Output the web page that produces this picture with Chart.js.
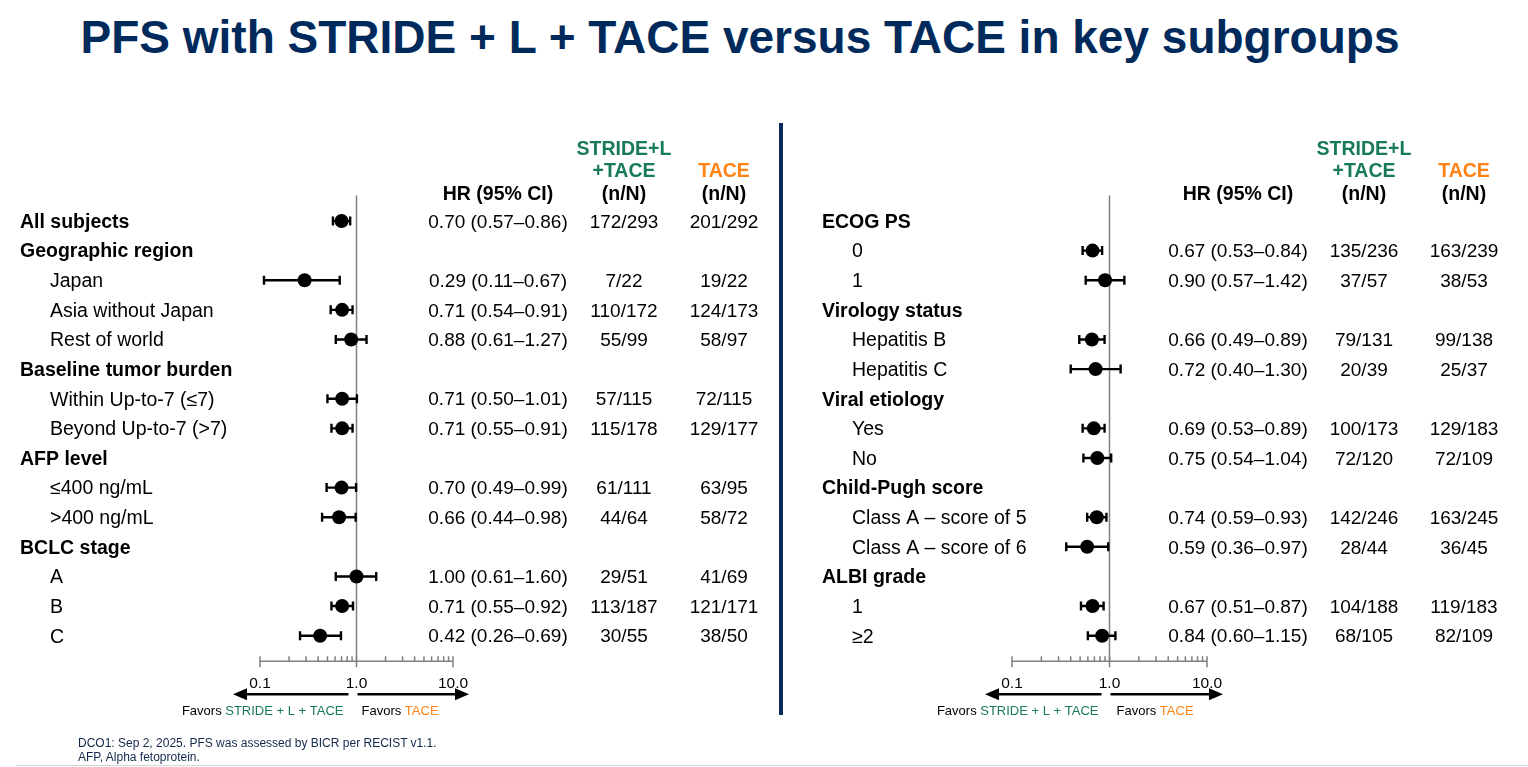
<!DOCTYPE html>
<html>
<head>
<meta charset="utf-8">
<script src="https://cdn.jsdelivr.net/npm/chart.js@4.4.1/dist/chart.umd.min.js"></script>
<style>
  body { margin: 0; width: 1528px; height: 767px; background: #fff; overflow: hidden; position: relative;
         font-family: "Liberation Sans", Arial, sans-serif; }
  #title { position: absolute; left: 0; width: 1480px; top: 14px; text-align: center; font-size: 46px;
           line-height: 46px; font-weight: bold; color: #002a5c; white-space: nowrap; }
  #divider { position: absolute; left: 779px; top: 123px; width: 4px; height: 592px; background: #0b2a5c; }
  #foot { position: absolute; left: 78px; top: 736px; font-size: 12px; line-height: 14px; color: #14284b; }
  #rule { position: absolute; left: 16px; right: 0; top: 765px; height: 1px; background: #d6d6d6; }
  canvas { position: absolute; top: 0; }
  #left { left: 0; }
  #right { left: 784px; }
</style>
</head>
<body>
<div id="title">PFS with STRIDE + L + TACE versus TACE in key subgroups</div>
<div id="divider"></div>
<canvas id="left" width="780" height="767"></canvas>
<canvas id="right" width="744" height="767"></canvas>
<div id="foot">DCO1: Sep 2, 2025. PFS was assessed by BICR per RECIST v1.1.<br>AFP, Alpha fetoprotein.</div>
<div id="rule"></div>
<script>
const GREEN = "rgb(24,122,88)"
const ORANGE = "rgb(255,130,20)"
const AXIS_GRAY = "#808080"

// left panel
const leftLabels = ["All subjects", "Geographic region", "Japan", "Asia without Japan", "Rest of world",
  "Baseline tumor burden", "Within Up-to-7 (\u22647)", "Beyond Up-to-7 (>7)", "AFP level",
  "\u2264400 ng/mL", ">400 ng/mL", "BCLC stage", "A", "B", "C"]
const leftBold = [true, true, false, false, false, true, false, false, true, false, false, true, false, false, false]
const leftHR   = [0.70, null, 0.29, 0.71, 0.88, null, 0.71, 0.71, null, 0.70, 0.66, null, 1.00, 0.71, 0.42]
const leftLow  = [0.57, null, 0.11, 0.54, 0.61, null, 0.50, 0.55, null, 0.49, 0.44, null, 0.61, 0.55, 0.26]
const leftHigh = [0.86, null, 0.67, 0.91, 1.27, null, 1.01, 0.91, null, 0.99, 0.98, null, 1.60, 0.92, 0.69]
const leftStride = ["172/293", null, "7/22", "110/172", "55/99", null, "57/115", "115/178", null,
  "61/111", "44/64", null, "29/51", "113/187", "30/55"]
const leftTace = ["201/292", null, "19/22", "124/173", "58/97", null, "72/115", "129/177", null,
  "63/95", "58/72", null, "41/69", "121/171", "38/50"]

// right panel
const rightLabels = ["ECOG PS", "0", "1", "Virology status", "Hepatitis B", "Hepatitis C", "Viral etiology",
  "Yes", "No", "Child-Pugh score", "Class A \u2013 score of 5", "Class A \u2013 score of 6", "ALBI grade", "1", "\u22652"]
const rightBold = [true, false, false, true, false, false, true, false, false, true, false, false, true, false, false]
const rightHR   = [null, 0.67, 0.90, null, 0.66, 0.72, null, 0.69, 0.75, null, 0.74, 0.59, null, 0.67, 0.84]
const rightLow  = [null, 0.53, 0.57, null, 0.49, 0.40, null, 0.53, 0.54, null, 0.59, 0.36, null, 0.51, 0.60]
const rightHigh = [null, 0.84, 1.42, null, 0.89, 1.30, null, 0.89, 1.04, null, 0.93, 0.97, null, 0.87, 1.15]
const rightStride = [null, "135/236", "37/57", null, "79/131", "20/39", null, "100/173", "72/120", null,
  "142/246", "28/44", null, "104/188", "68/105"]
const rightTace = [null, "163/239", "38/53", null, "99/138", "25/37", null, "129/183", "72/109", null,
  "163/245", "36/45", null, "119/183", "82/109"]

const axisTicks = [0.1, 0.2, 0.3, 0.4, 0.5, 0.6, 0.7, 0.8, 0.9, 1, 2, 3, 4, 5, 6, 7, 8, 9, 10]
const axisLabels = { 0.1: "0.1", 1: "1.0", 10: "10.0" }

const fmt = v => v.toFixed(2)

function makePanel(id, p) {
  const hasHR = p.hr.map(v => v != null)

  const forestPlugin = {
    id: "forest_" + id,
    beforeDatasetsDraw(chart) {
      const ctx = chart.ctx
      const xs = chart.scales.x, ys = chart.scales.y
      const refX = xs.getPixelForValue(1)
      const axisY = ys.bottom - 4
      ctx.save()
      // reference line at HR = 1
      ctx.strokeStyle = AXIS_GRAY
      ctx.lineWidth = 1.5
      ctx.beginPath()
      ctx.moveTo(refX, ys.top + 4)
      ctx.lineTo(refX, axisY)
      ctx.stroke()

      // log axis
      ctx.beginPath()
      ctx.moveTo(xs.getPixelForValue(0.1), axisY)
      ctx.lineTo(xs.getPixelForValue(10), axisY)
      axisTicks.forEach(t => {
        const x = xs.getPixelForValue(t)
        const major = axisLabels[t] !== undefined
        ctx.moveTo(x, axisY - 5)
        ctx.lineTo(x, major ? axisY + 6 : axisY)
      })
      ctx.stroke()

      ctx.fillStyle = "#000"
      ctx.font = "15.5px 'Liberation Sans', Arial, sans-serif"
      ctx.textAlign = "center"
      ctx.textBaseline = "middle"
      Object.keys(axisLabels).forEach(k => {
        ctx.fillText(axisLabels[k], xs.getPixelForValue(Number(k)), axisY + 22)
      })

      // arrows
      const arrY = axisY + 33
      ctx.strokeStyle = "#000"
      ctx.lineWidth = 2.5
      const lTip = xs.left - 27, rTip = xs.right + 16
      ctx.beginPath()
      ctx.moveTo(refX - 8, arrY); ctx.lineTo(lTip + 10, arrY)
      ctx.moveTo(refX + 1, arrY); ctx.lineTo(rTip - 10, arrY)
      ctx.stroke()
      ctx.beginPath()
      ctx.moveTo(lTip, arrY); ctx.lineTo(lTip + 14, arrY - 6); ctx.lineTo(lTip + 14, arrY + 6); ctx.closePath()
      ctx.moveTo(rTip, arrY); ctx.lineTo(rTip - 14, arrY - 6); ctx.lineTo(rTip - 14, arrY + 6); ctx.closePath()
      ctx.fill()

      // favors text
      const favY = arrY + 17
      ctx.font = "13px 'Liberation Sans', Arial, sans-serif"
      ctx.textAlign = "left"
      const pre = "Favors ", armL = "STRIDE + L + TACE", armR = "TACE"
      const wL = ctx.measureText(pre + armL).width
      let x0 = refX - p.favGapL - wL
      ctx.fillStyle = "#000"; ctx.fillText(pre, x0, favY)
      ctx.fillStyle = GREEN; ctx.fillText(armL, x0 + ctx.measureText(pre).width, favY)
      x0 = refX + p.favGapR
      ctx.fillStyle = "#000"; ctx.fillText(pre, x0, favY)
      ctx.fillStyle = ORANGE; ctx.fillText(armR, x0 + ctx.measureText(pre).width, favY)

      // confidence intervals
      ctx.strokeStyle = "#000"
      ctx.lineWidth = 2.4
      p.hr.forEach((v, i) => {
        if (v == null) return
        const y = ys.getPixelForValue(i)
        const a = xs.getPixelForValue(p.low[i]), b = xs.getPixelForValue(p.high[i])
        ctx.beginPath()
        ctx.moveTo(a, y); ctx.lineTo(b, y)
        ctx.moveTo(a, y - 4.5); ctx.lineTo(a, y + 4.5)
        ctx.moveTo(b, y - 4.5); ctx.lineTo(b, y + 4.5)
        ctx.stroke()
      })
      ctx.restore()
    },
    afterDraw(chart) {
      const ctx = chart.ctx
      const ys = chart.scales.y
      const bold = "bold 19.5px 'Liberation Sans', Arial, sans-serif"
      const reg = "19.5px 'Liberation Sans', Arial, sans-serif"
      const num = "19px 'Liberation Sans', Arial, sans-serif"
      const dy = 1.5
      ctx.save()
      ctx.textBaseline = "middle"

      // column headers
      ctx.font = bold
      ctx.textAlign = "center"
      ctx.fillStyle = GREEN
      ctx.fillText("STRIDE+L", p.colStride, 148 + dy)
      ctx.fillText("+TACE", p.colStride, 170 + dy)
      ctx.fillStyle = ORANGE
      ctx.fillText("TACE", p.colTace, 170 + dy)
      ctx.fillStyle = "#000"
      ctx.fillText("HR (95% CI)", p.colHR, 193 + dy)
      ctx.fillText("(n/N)", p.colStride, 193 + dy)
      ctx.fillText("(n/N)", p.colTace, 193 + dy)

      p.labels.forEach((lab, i) => {
        const y = ys.getPixelForValue(i) + dy
        ctx.fillStyle = "#000"
        ctx.textAlign = "left"
        ctx.font = p.bold[i] ? bold : reg
        ctx.fillText(lab, p.bold[i] ? p.xHead : p.xSub, y)
        if (!hasHR[i]) return
        ctx.font = num
        ctx.textAlign = "center"
        ctx.fillText(fmt(p.hr[i]) + " (" + fmt(p.low[i]) + "\u2013" + fmt(p.high[i]) + ")", p.colHR, y)
        ctx.fillText(p.stride[i], p.colStride, y)
        ctx.fillText(p.tace[i], p.colTace, y)
      })
      ctx.restore()
    },
  }

  const rowStep = 29.62
  const top = 221 - rowStep
  const bottom = 767 - (221 + 15 * rowStep)
  const canvas = document.getElementById(id)

  return new Chart(canvas, {
    type: "scatter",
    data: {
      datasets: [{
        data: p.hr.map((v, i) => v == null ? null : { x: v, y: i }).filter(d => d),
        backgroundColor: "#000",
        borderWidth: 0,
        pointRadius: 7,
        pointHoverRadius: 7,
      }],
    },
    options: {
      responsive: false,
      animation: false,
      layout: { padding: { left: p.areaLeft, right: canvas.width - p.areaRight, top: top, bottom: bottom } },
      scales: {
        x: { type: "logarithmic", min: 0.1, max: 10, display: false },
        y: { type: "linear", min: -1, max: 15, reverse: true, display: false },
      },
      plugins: { legend: { display: false }, tooltip: { enabled: false } },
    },
    plugins: [forestPlugin],
  })
}

makePanel("left", {
  labels: leftLabels, bold: leftBold, hr: leftHR, low: leftLow, high: leftHigh,
  stride: leftStride, tace: leftTace,
  areaLeft: 260, areaRight: 453,
  xHead: 20, xSub: 50, colHR: 498, colStride: 624, colTace: 724,
  favGapL: 13, favGapR: 5,
})

makePanel("right", {
  labels: rightLabels, bold: rightBold, hr: rightHR, low: rightLow, high: rightHigh,
  stride: rightStride, tace: rightTace,
  areaLeft: 228, areaRight: 423,
  xHead: 38, xSub: 68, colHR: 454, colStride: 580, colTace: 680,
  favGapL: 11, favGapR: 7,
})
</script>
</body>
</html>
